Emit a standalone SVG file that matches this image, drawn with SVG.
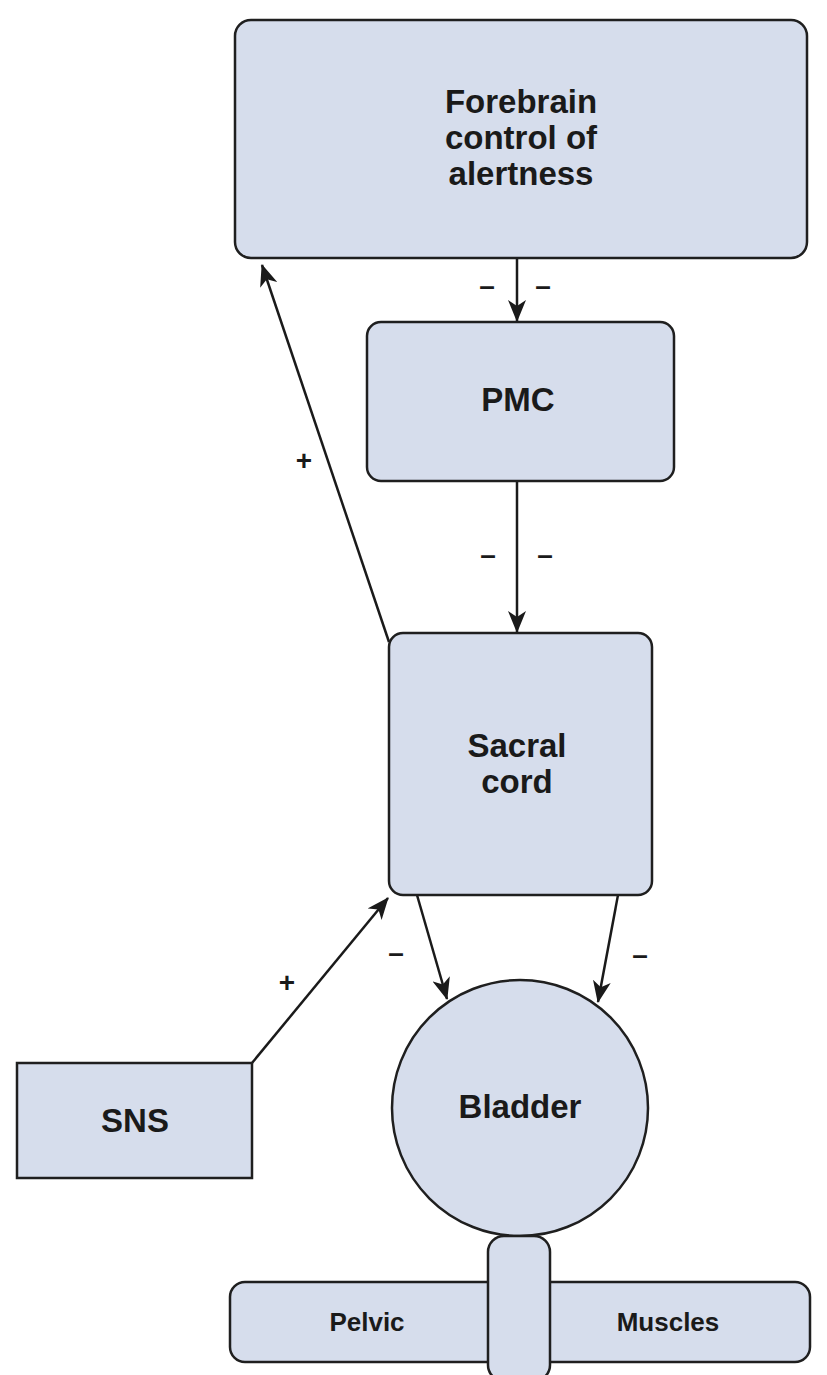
<svg xmlns="http://www.w3.org/2000/svg" width="827" height="1375" viewBox="0 0 827 1375">
<style>
.box{fill:#d6ddec;stroke:#1f1f1f;stroke-width:2.5}
.lbl{font-family:"Liberation Sans",Arial,sans-serif;font-weight:bold;fill:#1a1a1a;text-anchor:middle}
.big{font-size:33px}
.sm{font-size:26px}
.sign{font-family:"Liberation Sans",Arial,sans-serif;font-weight:bold;font-size:28px;fill:#1a1a1a;text-anchor:middle}
.con{stroke:#1a1a1a;stroke-width:2.5;fill:none;marker-end:url(#ah)}
</style>
<defs>
<marker id="ah" viewBox="0 0 22 18" refX="21" refY="9" markerWidth="22" markerHeight="18" markerUnits="userSpaceOnUse" orient="auto">
<path d="M0,0 L22,9 L0,18 L6,9 Z" fill="#1a1a1a"/>
</marker>
</defs>
<rect width="827" height="1375" fill="#ffffff"/>
<g id="connectors">
<line class="con" x1="517" y1="258" x2="517" y2="321"/>
<line class="con" x1="517" y1="481" x2="517" y2="632"/>
<line class="con" x1="389" y1="642" x2="262" y2="265"/>
<line class="con" x1="417" y1="895" x2="447" y2="999"/>
<line class="con" x1="618" y1="895" x2="598" y2="1002"/>
<line class="con" x1="252" y1="1063" x2="388" y2="898"/>
</g>
<g id="signs">
<text class="sign" x="487" y="295">–</text>
<text class="sign" x="543" y="295">–</text>
<text class="sign" x="488" y="564">–</text>
<text class="sign" x="545" y="564">–</text>
<text class="sign" x="304" y="470">+</text>
<text class="sign" x="396" y="962">–</text>
<text class="sign" x="640" y="964">–</text>
<text class="sign" x="287" y="992">+</text>
</g>
<g id="forebrain">
<rect class="box" x="235" y="20" width="572" height="238" rx="16"/>
<text class="lbl big" x="521" y="113">Forebrain</text>
<text class="lbl big" x="521" y="149">control of</text>
<text class="lbl big" x="521" y="185">alertness</text>
</g>
<g id="pmc">
<rect class="box" x="367" y="322" width="307" height="159" rx="14"/>
<text class="lbl big" x="518" y="411">PMC</text>
</g>
<g id="sacral">
<rect class="box" x="389" y="633" width="263" height="262" rx="14"/>
<text class="lbl big" x="517" y="757">Sacral</text>
<text class="lbl big" x="517" y="793">cord</text>
</g>
<g id="sns">
<rect class="box" x="17" y="1063" width="235" height="115"/>
<text class="lbl big" x="135" y="1132">SNS</text>
</g>
<g id="pelvic">
<rect class="box" x="230" y="1282" width="580" height="80" rx="15"/>
<text class="lbl sm" x="367" y="1331">Pelvic</text>
<text class="lbl sm" x="668" y="1331">Muscles</text>
</g>
<g id="bladder">
<circle class="box" cx="520" cy="1108" r="128"/>
<text class="lbl big" x="520" y="1118">Bladder</text>
</g>
<g id="urethra">
<rect class="box" x="488" y="1236" width="62" height="145" rx="16"/>
</g>
</svg>
